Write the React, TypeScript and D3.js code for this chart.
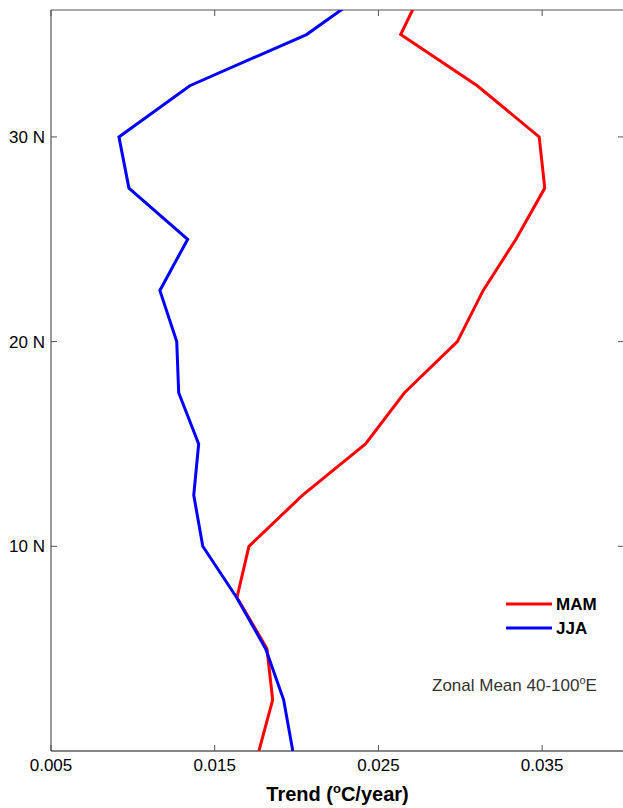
import React from "react";
import * as d3 from "d3";

// Latitude (°N) of each profile level
const latitudes = [0, 2.5, 5, 7.5, 10, 12.5, 15, 17.5, 20, 22.5, 25, 27.5, 30, 32.5, 35, 37.5];
// Spring (MAM) trend, °C/year
const mamTrend = [0.0177, 0.01854, 0.01819, 0.01636, 0.01709, 0.02037, 0.02421, 0.02659, 0.02982, 0.0314, 0.0334, 0.03516, 0.03482, 0.03104, 0.02636, 0.02787];
// Summer (JJA) trend, °C/year
const jjaTrend = [0.01977, 0.01921, 0.01811, 0.01634, 0.01427, 0.01372, 0.01402, 0.0128, 0.01268, 0.01165, 0.01335, 0.00976, 0.00915, 0.01348, 0.02061, 0.025];

const xTicks = [0.005, 0.015, 0.025, 0.035];
const yTicks = [10, 20, 30];
const seriesNames = ["MAM", "JJA"];
const seriesColors = ["#ff0000", "#0000ff"];

const W = 623;
const H = 808;
const left = 51;
const right = 624;
const top = 10;
const bottom = 751;
const font = "'Liberation Sans', Arial, sans-serif";

export default function App() {
  const x = d3.scaleLinear().domain([0.005, 0.04]).range([left, right]);
  const y = d3.scaleLinear().domain([0, 36.2]).range([bottom, top]);

  const line = d3
    .line<[number, number]>()
    .x((d) => x(d[0]))
    .y((d) => y(d[1]));

  const series = [mamTrend, jjaTrend].map((vals) =>
    vals.map((v, i) => [v, latitudes[i]] as [number, number])
  );

  const tickLen = 6;

  return (
    <svg
      width={W}
      height={H}
      style={{ position: "fixed", left: 0, top: 0, background: "#fff" }}
      fontFamily={font}
    >
      <rect x={0} y={0} width={W} height={H} fill="#fff" />
      <defs>
        <clipPath id="plot">
          <rect x={left} y={top} width={right - left} height={bottom - top} />
        </clipPath>
      </defs>

      {/* frame */}
      <line x1={left} y1={top} x2={right} y2={top} stroke="#555" strokeWidth={1.2} />
      <line x1={left} y1={top} x2={left} y2={bottom} stroke="#555" strokeWidth={1.2} />
      <line x1={right} y1={top} x2={right} y2={bottom} stroke="#555" strokeWidth={1.2} />
      <line x1={left} y1={bottom} x2={right} y2={bottom} stroke="#111" strokeWidth={1.2} />

      {/* x ticks: bottom and top, pointing inward */}
      {xTicks.map((t) => (
        <g key={`x${t}`}>
          <line x1={x(t)} x2={x(t)} y1={bottom} y2={bottom - tickLen} stroke="#555" />
          <line x1={x(t)} x2={x(t)} y1={top} y2={top + tickLen} stroke="#555" />
          <text
            x={x(t)}
            y={771}
            textAnchor="middle"
            fontSize={17}
            fill="#000"
          >
            {t.toFixed(3)}
          </text>
        </g>
      ))}

      {/* y ticks: left and right, pointing inward */}
      {yTicks.map((t) => (
        <g key={`y${t}`}>
          <line x1={left} x2={left + tickLen} y1={y(t)} y2={y(t)} stroke="#555" />
          <line x1={right} x2={right - tickLen} y1={y(t)} y2={y(t)} stroke="#555" />
          <text
            x={45}
            y={y(t)}
            dy="0.36em"
            textAnchor="end"
            fontSize={17}
            fill="#000"
          >
            {`${t} N`}
          </text>
        </g>
      ))}

      {/* profiles */}
      <g clipPath="url(#plot)">
        {series.map((s, i) => (
          <path
            key={seriesNames[i]}
            d={line(s) ?? ""}
            fill="none"
            stroke={seriesColors[i]}
            strokeWidth={3}
            strokeLinejoin="miter"
          />
        ))}
      </g>

      {/* legend */}
      {seriesNames.map((name, i) => (
        <g key={`lg${name}`}>
          <line
            x1={506}
            x2={552}
            y1={604 + i * 24}
            y2={604 + i * 24}
            stroke={seriesColors[i]}
            strokeWidth={3}
          />
          <text
            x={556}
            y={604 + i * 24}
            dy="0.36em"
            fontSize={17}
            fontWeight="bold"
            fill="#000"
          >
            {name}
          </text>
        </g>
      ))}

      <text x={432} y={691} fontSize={17} fill="#333">
        Zonal Mean 40-100
        <tspan dy={-7} fontSize={11}>o</tspan>
        <tspan dy={7}>E</tspan>
      </text>

      {/* axis title */}
      <text
        x={(left + right) / 2}
        y={801}
        textAnchor="middle"
        fontSize={20}
        fontWeight="bold"
        fill="#000"
      >
        Trend (
        <tspan dy={-8} fontSize={13}>o</tspan>
        <tspan dy={8}>C/year)</tspan>
      </text>
    </svg>
  );
}
